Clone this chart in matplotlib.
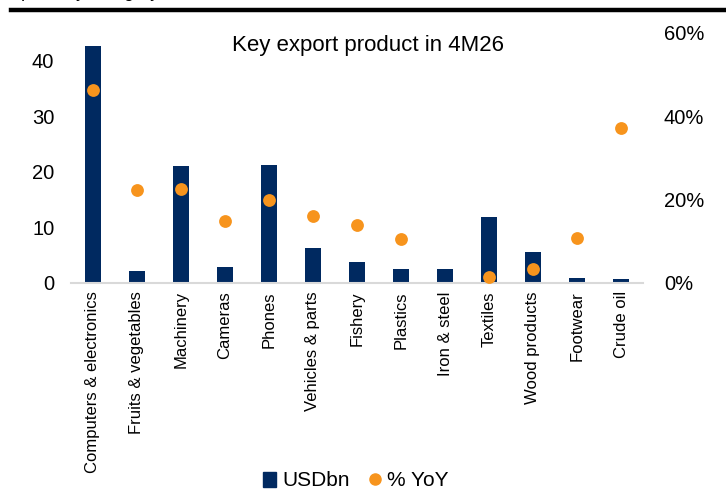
import matplotlib
matplotlib.use("Agg")
import matplotlib.pyplot as plt
from matplotlib.lines import Line2D
from matplotlib.patches import Patch

plt.rcParams['font.family'] = ['Liberation Sans', 'DejaVu Sans']

categories = ["Computers & electronics", "Fruits & vegetables", "Machinery", "Cameras",
              "Phones", "Vehicles & parts", "Fishery", "Plastics", "Iron & steel",
              "Textiles", "Wood products", "Footwear", "Crude oil"]
usd_bn = [42.7, 2.15, 21.0, 2.8, 21.3, 6.3, 3.7, 2.6, 2.6, 11.9, 5.6, 0.9, 0.7]
yoy_pct = [46.3, 22.2, 22.6, 14.9, 19.8, 16.1, 13.8, 10.5, None, 1.4, 3.4, 10.7, 37.1]
title = "Key export product in 4M26"

navy = "#002960"
orange = "#F7941D"

fig = plt.figure(figsize=(7.26, 4.97), dpi=100)
W, H = 726, 497
ax = fig.add_axes([71 / W, 1 - 283 / H, (643 - 71) / W, (283 - 33) / H])
x = list(range(len(categories)))
ax.bar(x, usd_bn, width=0.37, color=navy, zorder=2)
ax.set_xlim(-0.5, len(categories) - 0.5)
ax.set_ylim(0, 45)
ax.set_yticks([0, 10, 20, 30, 40])
ax.set_xticks(x)
ax.set_xticklabels(categories, rotation=90, fontsize=12)
ax.tick_params(axis='y', labelsize=14.5, length=0, pad=12)
ax.tick_params(axis='x', length=0, pad=6)
for s in ['top', 'right', 'left']:
    ax.spines[s].set_visible(False)
ax.spines['bottom'].set_color('#d9d9d9')
ax.spines['bottom'].set_linewidth(1.5)

ax2 = ax.twinx()
xs = [i for i, v in zip(x, yoy_pct) if v is not None]
ys = [v / 100 for v in yoy_pct if v is not None]
ax2.scatter(xs, ys, s=85, color=orange, zorder=3, linewidths=0)
ax2.set_ylim(0, 0.6)
ax2.set_yticks([0, 0.2, 0.4, 0.6])
ax2.set_yticklabels(["0%", "20%", "40%", "60%"])
ax2.tick_params(axis='y', labelsize=14.5, length=0, pad=15)
for s in ['top', 'right', 'left', 'bottom']:
    ax2.spines[s].set_visible(False)

fig.text(368 / W, 1 - 45 / H, title, ha='center', va='center', fontsize=16)

# thick rule at top
fig.add_artist(Line2D([11 / W, 1], [1 - 10 / H, 1 - 10 / H], color='black', lw=3.2,
                      transform=fig.transFigure))
fig.text(0 / W, 1 + 3 / H, "Exports by category", ha='left', va='baseline', fontsize=13)

handles = [Patch(color=navy, label="USDbn"),
           Line2D([], [], marker='o', color=orange, linestyle='None', markersize=8, label="% YoY")]
fig.legend(handles=handles, loc='center', bbox_to_anchor=(356 / W, 1 - 481 / H), ncol=2,
           frameon=False, fontsize=15, handlelength=0.6, handletextpad=0.3, columnspacing=0.9)

fig.savefig("out.png", dpi=100)
